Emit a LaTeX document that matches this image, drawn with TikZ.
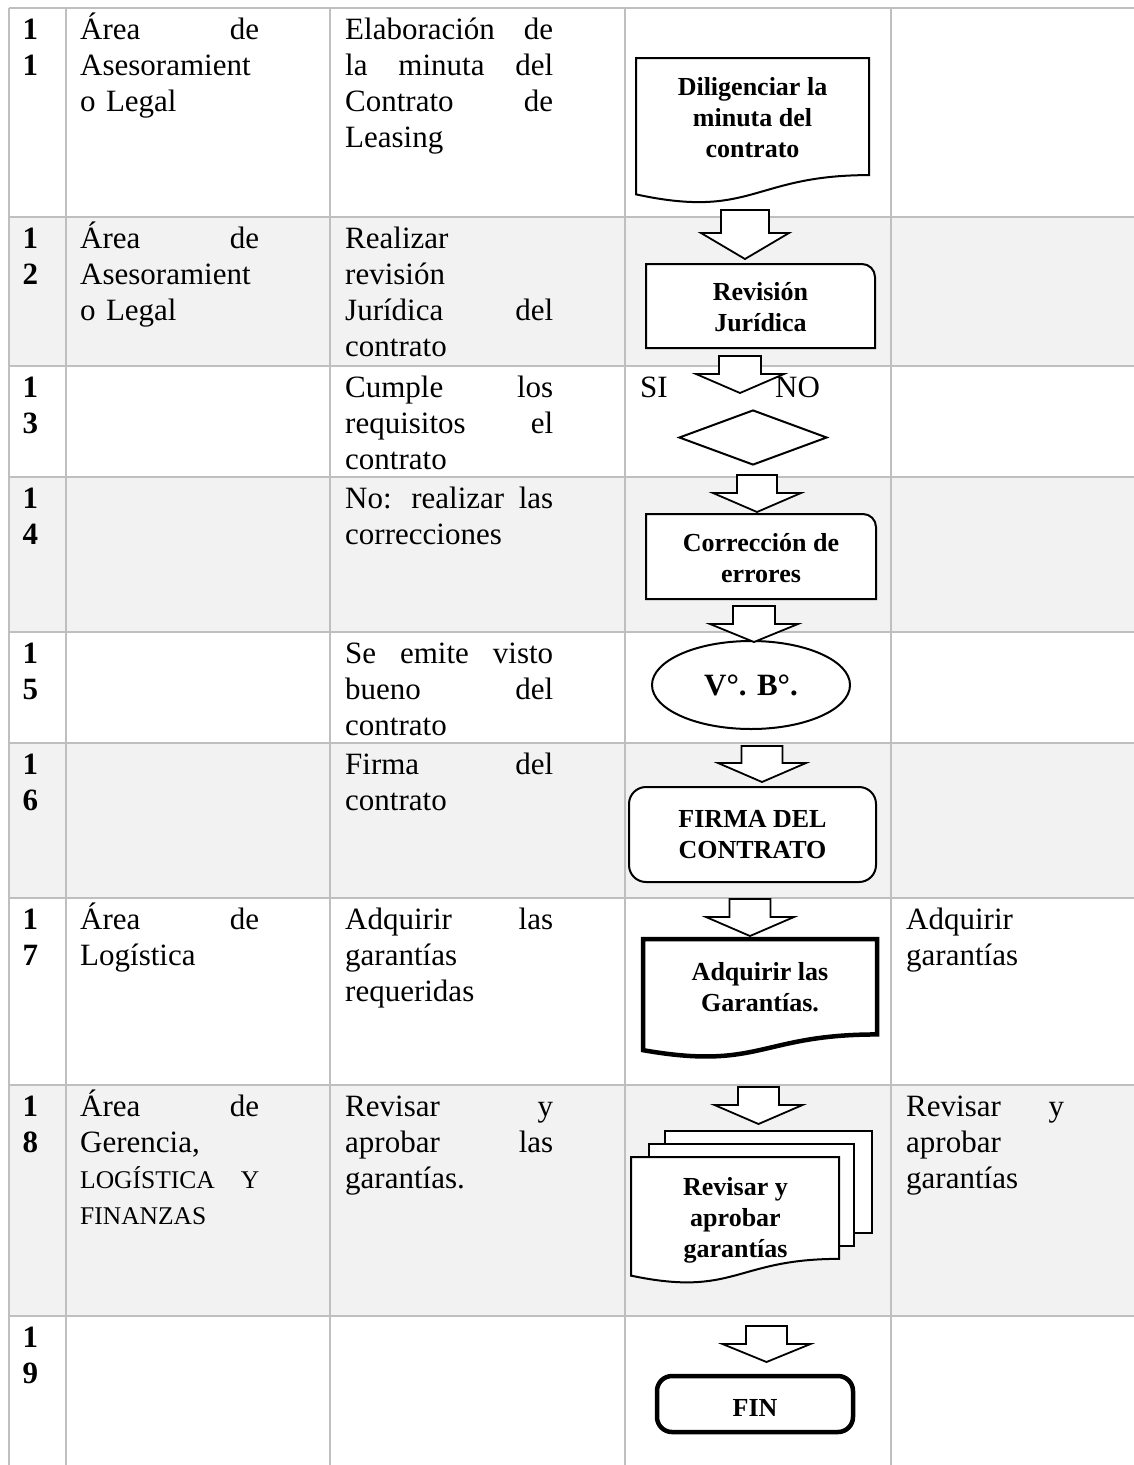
\documentclass[tikz,border=0pt]{standalone}
\usepackage{fontspec}
\setmainfont{Liberation Serif}
\usepackage{tikz}
\usetikzlibrary{shapes.geometric, positioning, calc}
\definecolor{lineagris}{HTML}{BFBFBF}
\definecolor{fondogris}{HTML}{F2F2F2}

\newcommand{\cuerpo}{\fontsize{31}{36}\selectfont}
\newcommand{\formafont}{\fontsize{26}{31}\selectfont\bfseries}
\newcommand{\versalita}{\fontsize{25.5}{36}\selectfont}
\newcommand{\tope}{\rule{0pt}{30pt}}
% documento: left, top, right, height
\newcommand{\documento}[5][forma]{%
  \draw[#1] (#2,#3) -- (#4,#3) -- (#4,{#3+0.802*#5})
    .. controls ({(#2+#4)/2},{#3+0.802*#5}) and ({(#2+#4)/2},{#3+1.107*#5}) .. (#2,{#3+0.934*#5}) -- cycle;}
% caja con la esquina superior derecha redondeada: left, top, right, bottom
\newcommand{\cajaesquina}[4]{%
  \draw[forma] (#1,#2) -- ({#3-13},#2) .. controls ({#3-5.8},#2) and (#3,{#2+5.8}) .. (#3,{#2+13})
    -- (#3,#4) -- (#1,#4) -- cycle;}
% flecha de bloque: centre, top, head base, tip, stem half-width
\newcommand{\flechabloque}[5]{%
  \draw[flecha] ({#1-#5},#2) -- ({#1+#5},#2) -- ({#1+#5},#3) -- ({#1+44},#3) -- (#1,#4)
    -- ({#1-44},#3) -- ({#1-#5},#3) -- cycle;}

\begin{document}
\begin{tikzpicture}[x=1pt, y=-1pt,
    numero/.style={anchor=north west, inner sep=0pt, align=left, font=\cuerpo\bfseries},
    celda/.style={anchor=north west, inner sep=0pt, text width=#1, align=left, font=\cuerpo},
    etiqueta/.style={anchor=north west, inner sep=0pt, font=\cuerpo},
    textoforma/.style={anchor=north, inner sep=0pt, align=center, font=\formafont},
    forma/.style={draw=black, line width=2pt, fill=white},
    formagruesa/.style={draw=black, line width=4.5pt, fill=white},
    flecha/.style={draw=black, line width=1.8pt, fill=white, line join=miter},
    rejilla/.style={draw=lineagris, line width=2pt},
    rombo/.style={diamond, forma, minimum width=148pt, minimum height=55pt, inner sep=0pt},
    elipse/.style={ellipse, forma, minimum width=198pt, minimum height=88pt, inner sep=0pt,
                   font=\cuerpo\bfseries},
    redondeada/.style={rectangle, rounded corners=17pt, forma, minimum width=247pt,
                       minimum height=95pt, align=center, font=\formafont},
    fin/.style={rectangle, rounded corners=15pt, formagruesa, minimum width=196pt,
                minimum height=56pt, text height=24pt, text depth=0pt, font=\formafont}
]
\useasboundingbox (0,0) rectangle (1134,1465);

% filas sombreadas y rejilla
\foreach \a/\b in {217/366, 477/632, 743/898, 1085/1316}
  \fill[fondogris] (9,\a) rectangle (1134,\b);
\foreach \y in {8,217,366,477,632,743,898,1085,1316}
  \draw[rejilla] (9,\y) -- (1134,\y);
\foreach \x in {9,66,330,625,891}
  \draw[rejilla] (\x,8) -- (\x,1465);

% numeros
\foreach \n/\y in {1/8, 2/217, 3/366, 4/477, 5/632, 6/743, 7/898, 8/1085, 9/1316}
  \node[numero] (num\n) at (22.5,{\y+1}) {\tope 1\\\n};

% textos de las celdas
\node[celda=179pt] (area11) at (80,9)    {\tope Área \hfill de\\Asesoramient\\o Legal};
\node[celda=208pt] (desc11) at (345,9)   {\tope Elaboración \hfill de\\la \hfill minuta \hfill del\\Contrato \hfill de\\Leasing};
\node[celda=179pt] (area12) at (80,218)  {\tope Área \hfill de\\Asesoramient\\o Legal};
\node[celda=208pt] (desc12) at (345,218) {\tope Realizar\\revisión\\Jurídica \hfill del\\contrato};
\node[celda=208pt] (desc13) at (345,367) {\tope Cumple \hfill los\\requisitos \hfill el\\contrato};
\node[celda=208pt] (desc14) at (345,478) {\tope No: \hfill realizar \hfill las\\correcciones};
\node[celda=208pt] (desc15) at (345,633) {\tope Se \hfill emite \hfill visto\\bueno \hfill del\\contrato};
\node[celda=208pt] (desc16) at (345,744) {\tope Firma \hfill del\\contrato};
\node[celda=179pt] (area17) at (80,899)  {\tope Área \hfill de\\Logística};
\node[celda=208pt] (desc17) at (345,899) {\tope Adquirir \hfill las\\garantías\\requeridas};
\node[celda=158pt] (obs17)  at (906,899) {\tope Adquirir\\garantías};
\node[celda=179pt] (area18) at (80,1086) {\tope Área \hfill de\\Gerencia,\\{\versalita LOGÍSTICA \hfill Y}\\{\versalita FINANZAS}};
\node[celda=208pt] (desc18) at (345,1086) {\tope Revisar \hfill y\\aprobar \hfill las\\garantías.};
\node[celda=158pt] (obs18)  at (906,1086) {\tope Revisar \hfill y\\aprobar\\garantías};

% diagrama
\documento{636}{58}{869}{146}
\node[textoforma] (dilig) at (752.5,65) {\tope Diligenciar la\\minuta del\\contrato};

\cajaesquina{646}{264}{875}{348}
\node[textoforma] (revision) at (760.5,270) {\tope Revisión\\Jurídica};

\node[rombo] (decision) at (753,437.5) {};

\cajaesquina{646}{514}{876}{599}
\node[textoforma] (correccion) at (761,521) {\tope Corrección de\\errores};

\node[elipse] (vobo) at (751,685) {V°. B°.};

\node[redondeada] (firma) at (752.5,834.5) {FIRMA DEL\\CONTRATO};

\documento[formagruesa]{643}{939}{877}{119}
\node[textoforma] (adquirir) at (760,950) {\tope Adquirir las\\Garantías.};

\draw[forma] (665,1131) rectangle (872,1233);
\draw[forma] (649,1144) rectangle (854,1246);
\documento{631}{1157}{839}{127}
\node[textoforma] (revisar) at (735.5,1165) {\tope Revisar y\\aprobar\\garantías};

\node[fin] (final) at (755,1404) {FIN};

% flechas de bloque
\flechabloque{745}{210}{233}{259}{24}
\flechabloque{740}{356}{374}{393}{21}
\flechabloque{757}{475}{493}{512}{20}
\flechabloque{754}{606}{624}{642}{21}
\flechabloque{762}{746}{763}{782}{20.5}
\flechabloque{750}{899}{917}{936}{20.5}
\flechabloque{758.5}{1087}{1105}{1124}{20.5}
\flechabloque{766.5}{1326}{1344}{1362}{20.5}

\node[etiqueta] (si) at (640,367) {\tope SI};
\node[etiqueta] (no) at (775,367) {\tope NO};
\end{tikzpicture}
\end{document}
